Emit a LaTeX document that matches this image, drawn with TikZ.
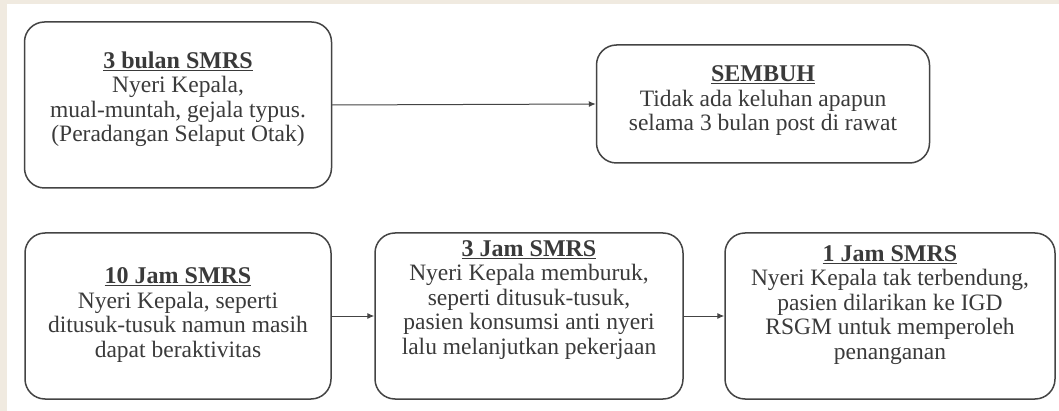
\documentclass[tikz,border=0pt]{standalone}
\usepackage{fontspec}
\setmainfont{Liberation Serif}
\usetikzlibrary{arrows.meta}
\definecolor{pagebeige}{RGB}{240,234,224}
\definecolor{inkgrey}{RGB}{58,58,58}
\definecolor{framegrey}{RGB}{68,68,68}

\tikzset{
  card/.style={draw=framegrey,line width=1.5pt,rounded corners=20pt,fill=white},
  cardtext/.style={align=center,text=inkgrey,inner sep=0pt,font=\fontsize{23.5}{24.5}\selectfont},
  flow/.style={-{Latex[length=7pt,width=6pt]},line width=1pt,draw=framegrey}
}
\newcommand{\cardtitle}[1]{{\fontsize{24}{24.5}\selectfont\underline{\textbf{#1}}}}

\begin{document}
\begin{tikzpicture}[x=1pt,y=-1pt,line cap=round,line join=round]
    \path[use as bounding box] (0,0) rectangle (1059,411);
    \fill[pagebeige] (0,0) rectangle (1059,411);
    \fill[white] (7,4) rectangle (1059,411);

    % top row
    \node[card,minimum width=307pt,minimum height=166pt] (onset) at (178,105) {};
    \node[card,minimum width=333pt,minimum height=118pt] (healed) at (763,104) {};

    % bottom row
    \node[card,minimum width=306pt,minimum height=166pt] (tenh) at (178,316) {};
    \node[card,minimum width=308pt,minimum height=166pt] (threeh) at (529,316) {};
    \node[card,minimum width=330pt,minimum height=166pt] (oneh) at (890,316) {};

    \node[cardtext] at (178,99) {\cardtitle{3 bulan SMRS}\\Nyeri Kepala,\\mual-muntah, gejala typus.\\(Peradangan Selaput Otak)};
    \node[cardtext] at (763,101) {\cardtitle{SEMBUH}\\Tidak ada keluhan apapun\\selama 3 bulan post di rawat};
    \node[cardtext] at (178,315) {\cardtitle{10 Jam SMRS}\\Nyeri Kepala, seperti\\ditusuk-tusuk namun masih\\dapat beraktivitas};
    \node[cardtext] at (529,300) {\cardtitle{3 Jam SMRS}\\Nyeri Kepala memburuk,\\seperti ditusuk-tusuk,\\pasien konsumsi anti nyeri\\lalu melanjutkan pekerjaan};
    \node[cardtext] at (890,305) {\cardtitle{1 Jam SMRS}\\Nyeri Kepala tak terbendung,\\pasien dilarikan ke IGD\\RSGM untuk memperoleh\\penanganan};

    \draw[flow] (onset.east) -- (healed.west);
    \draw[flow] (tenh.east) -- (threeh.west);
    \draw[flow] (threeh.east) -- (oneh.west);
\end{tikzpicture}
\end{document}
